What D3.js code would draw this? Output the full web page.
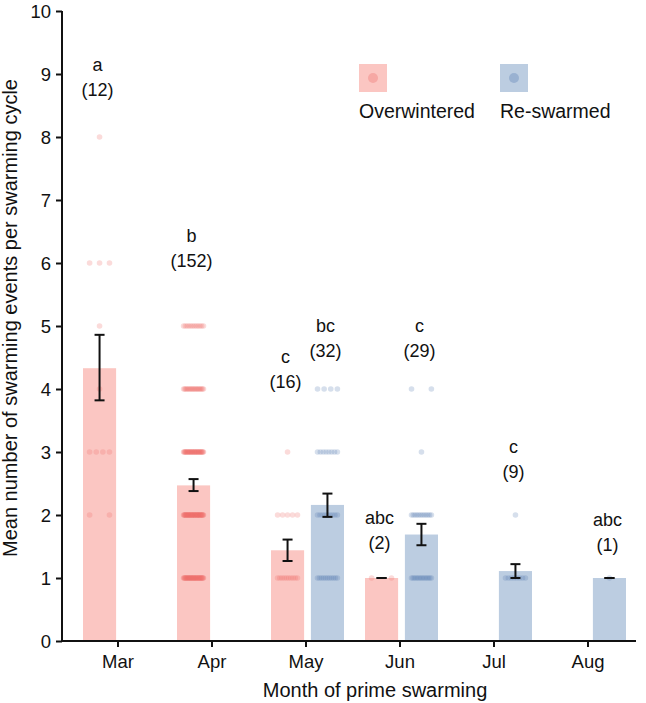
<!DOCTYPE html>
<html>
<head>
<meta charset="utf-8">
<script src="https://cdn.jsdelivr.net/npm/d3@7"></script>
<style>
  body { margin: 0; background: #fff; }
  text { font-family: 'Liberation Sans', Arial, sans-serif; fill: #111; }
</style>
</head>
<body>
<div id="chart"></div>
<script>
const months = ['Mar', 'Apr', 'May', 'Jun', 'Jul', 'Aug'];
const groups = ['Overwintered', 'Re-swarmed'];
const yTicks = [0, 1, 2, 3, 4, 5, 6, 7, 8, 9, 10];

// bar means with error limits
const means = [
  { month: 'Mar', group: 'Overwintered', mean: 4.33, lo: 3.82, hi: 4.86 },
  { month: 'Apr', group: 'Overwintered', mean: 2.47, lo: 2.38, hi: 2.57 },
  { month: 'May', group: 'Overwintered', mean: 1.44, lo: 1.27, hi: 1.61 },
  { month: 'May', group: 'Re-swarmed', mean: 2.16, lo: 1.97, hi: 2.34 },
  { month: 'Jun', group: 'Overwintered', mean: 1.0, lo: 1.0, hi: 1.0 },
  { month: 'Jun', group: 'Re-swarmed', mean: 1.69, lo: 1.52, hi: 1.86 },
  { month: 'Jul', group: 'Re-swarmed', mean: 1.11, lo: 1.0, hi: 1.22 },
  { month: 'Aug', group: 'Re-swarmed', mean: 1.0, lo: 1.0, hi: 1.0 }
];

// letters, sample sizes, and the value where the letter baseline sits
const letters = [
  { month: 'Mar', group: 'Overwintered', letter: 'a', n: 12, at: 9.05 },
  { month: 'Apr', group: 'Overwintered', letter: 'b', n: 152, at: 6.33 },
  { month: 'May', group: 'Overwintered', letter: 'c', n: 16, at: 4.41 },
  { month: 'May', group: 'Re-swarmed', letter: 'bc', n: 32, at: 4.91 },
  { month: 'Jun', group: 'Overwintered', letter: 'abc', n: 2, at: 1.86 },
  { month: 'Jun', group: 'Re-swarmed', letter: 'c', n: 29, at: 4.91 },
  { month: 'Jul', group: 'Re-swarmed', letter: 'c', n: 9, at: 2.99 },
  { month: 'Aug', group: 'Re-swarmed', letter: 'abc', n: 1, at: 1.83 }
];

// counts of colonies at each number of swarming events
const counts = [
  { month: 'Mar', group: 'Overwintered', value: 8, count: 1 },
  { month: 'Mar', group: 'Overwintered', value: 6, count: 3 },
  { month: 'Mar', group: 'Overwintered', value: 5, count: 1 },
  { month: 'Mar', group: 'Overwintered', value: 4, count: 1 },
  { month: 'Mar', group: 'Overwintered', value: 3, count: 4 },
  { month: 'Mar', group: 'Overwintered', value: 2, count: 2 },
  { month: 'Apr', group: 'Overwintered', value: 5, count: 12 },
  { month: 'Apr', group: 'Overwintered', value: 4, count: 20 },
  { month: 'Apr', group: 'Overwintered', value: 3, count: 35 },
  { month: 'Apr', group: 'Overwintered', value: 2, count: 45 },
  { month: 'Apr', group: 'Overwintered', value: 1, count: 40 },
  { month: 'May', group: 'Overwintered', value: 3, count: 1 },
  { month: 'May', group: 'Overwintered', value: 2, count: 5 },
  { month: 'May', group: 'Overwintered', value: 1, count: 10 },
  { month: 'May', group: 'Re-swarmed', value: 4, count: 4 },
  { month: 'May', group: 'Re-swarmed', value: 3, count: 8 },
  { month: 'May', group: 'Re-swarmed', value: 2, count: 9 },
  { month: 'May', group: 'Re-swarmed', value: 1, count: 11 },
  { month: 'Jun', group: 'Overwintered', value: 1, count: 2 },
  { month: 'Jun', group: 'Re-swarmed', value: 4, count: 2 },
  { month: 'Jun', group: 'Re-swarmed', value: 3, count: 1 },
  { month: 'Jun', group: 'Re-swarmed', value: 2, count: 12 },
  { month: 'Jun', group: 'Re-swarmed', value: 1, count: 14 },
  { month: 'Jul', group: 'Re-swarmed', value: 2, count: 1 },
  { month: 'Jul', group: 'Re-swarmed', value: 1, count: 8 },
  { month: 'Aug', group: 'Re-swarmed', value: 1, count: 1 }
];

const barColor = { 'Overwintered': '#fbc6c2', 'Re-swarmed': '#bccde1' };
const dotColor = { 'Overwintered': '#ef6f6c', 'Re-swarmed': '#5a7fb5' };
const font = "'Liberation Sans', Arial, sans-serif";

const width = 646, height = 703;

const svg = d3.select('#chart').append('svg')
  .attr('width', width)
  .attr('height', height);

const x0 = d3.scaleBand()
  .domain(months)
  .range([71, 635]);

const x1 = d3.scaleBand()
  .domain(groups)
  .range([-35, 38])
  .paddingInner(0.17);

const y = d3.scaleLinear()
  .domain([0, 10])
  .range([641, 11]);

function bx(d) {
  return x0(d.month) + x0.bandwidth() / 2 + x1(d.group);
}

// bars
svg.append('g').selectAll('rect')
  .data(means)
  .enter()
  .append('rect')
  .attr('x', bx)
  .attr('y', function(d) { return y(d.mean); })
  .attr('width', x1.bandwidth())
  .attr('height', function(d) { return y(0) - y(d.mean); })
  .attr('fill', function(d) { return barColor[d.group]; });

// individual points, spread across the bar
const dots = [];
counts.forEach(function(c) {
  for (let i = 0; i < c.count; i++) {
    const t = c.count === 1 ? 0.5 : i / (c.count - 1);
    dots.push({ month: c.month, group: c.group, value: c.value, t: t });
  }
});

svg.append('g').selectAll('circle')
  .data(dots)
  .enter()
  .append('circle')
  .attr('cx', function(d) {
    const bw = x1.bandwidth();
    return bx(d) + bw * 0.2 + d.t * bw * 0.6;
  })
  .attr('cy', function(d) { return y(d.value); })
  .attr('r', 2.8)
  .attr('fill', function(d) { return dotColor[d.group]; })
  .attr('fill-opacity', 0.25);

// error bars
const err = svg.append('g')
  .attr('stroke', '#111')
  .attr('stroke-width', 2);

means.forEach(function(d) {
  const mx = bx(d) + x1.bandwidth() / 2;
  err.append('line')
    .attr('x1', mx).attr('x2', mx)
    .attr('y1', y(d.lo)).attr('y2', y(d.hi));
  err.append('line')
    .attr('x1', mx - 5).attr('x2', mx + 5)
    .attr('y1', y(d.lo)).attr('y2', y(d.lo));
  err.append('line')
    .attr('x1', mx - 5).attr('x2', mx + 5)
    .attr('y1', y(d.hi)).attr('y2', y(d.hi));
});

// letters and n
const lab = svg.append('g').selectAll('g')
  .data(letters)
  .enter()
  .append('g')
  .attr('transform', function(d) {
    return 'translate(' + (bx(d) + x1.bandwidth() / 2 - 2) + ',' + y(d.at) + ')';
  });

lab.append('text')
  .text(function(d) { return d.letter; })
  .style('font-size', '18px')
  .style('text-anchor', 'middle');

lab.append('text')
  .text(function(d) { return '(' + d.n + ')'; })
  .attr('y', 25)
  .style('font-size', '18px')
  .style('text-anchor', 'middle');

// axes
const yAxis = svg.append('g')
  .attr('transform', 'translate(62,0)')
  .call(d3.axisLeft(y).tickValues(yTicks).tickSize(6).tickSizeOuter(0));

const xAxis = svg.append('g')
  .attr('transform', 'translate(0,641)')
  .call(d3.axisBottom(x0).tickSize(6).tickSizeOuter(0));

[yAxis, xAxis].forEach(function(a) {
  a.select('.domain').attr('stroke', '#111').attr('stroke-width', 2);
  a.selectAll('.tick line').attr('stroke', '#111').attr('stroke-width', 2);
  a.selectAll('.tick text')
    .style('font-size', '18.5px')
    .style('font-family', font)
    .attr('fill', '#111');
});

yAxis.select('.domain').attr('d', 'M0,' + y(10) + 'V' + (y(0) + 1));
xAxis.select('.domain').attr('d', 'M62,0H636');
yAxis.selectAll('.tick text').attr('x', -11).attr('dy', '0.36em');
xAxis.selectAll('.tick text').attr('y', 27).attr('dy', 0);

svg.append('text')
  .text('Mean number of swarming events per swarming cycle')
  .attr('transform', 'translate(17,318) rotate(-90)')
  .style('font-size', '20px')
  .style('text-anchor', 'middle');

svg.append('text')
  .text('Month of prime swarming')
  .attr('x', 375)
  .attr('y', 697)
  .style('font-size', '20px')
  .style('text-anchor', 'middle');

// legend
const legend = svg.append('g').selectAll('g')
  .data(groups)
  .enter()
  .append('g')
  .attr('transform', function(d, i) {
    return 'translate(' + (359 + i * 141) + ',64)';
  });

legend.append('rect')
  .attr('width', 28)
  .attr('height', 28)
  .attr('fill', function(d) { return barColor[d]; });

legend.append('circle')
  .attr('cx', 14)
  .attr('cy', 14)
  .attr('r', 5)
  .attr('fill', function(d) { return dotColor[d]; })
  .attr('fill-opacity', 0.35);

legend.append('text')
  .text(function(d) { return d; })
  .attr('x', 0)
  .attr('y', 54)
  .style('font-size', '19.5px');
</script>
</body>
</html>
